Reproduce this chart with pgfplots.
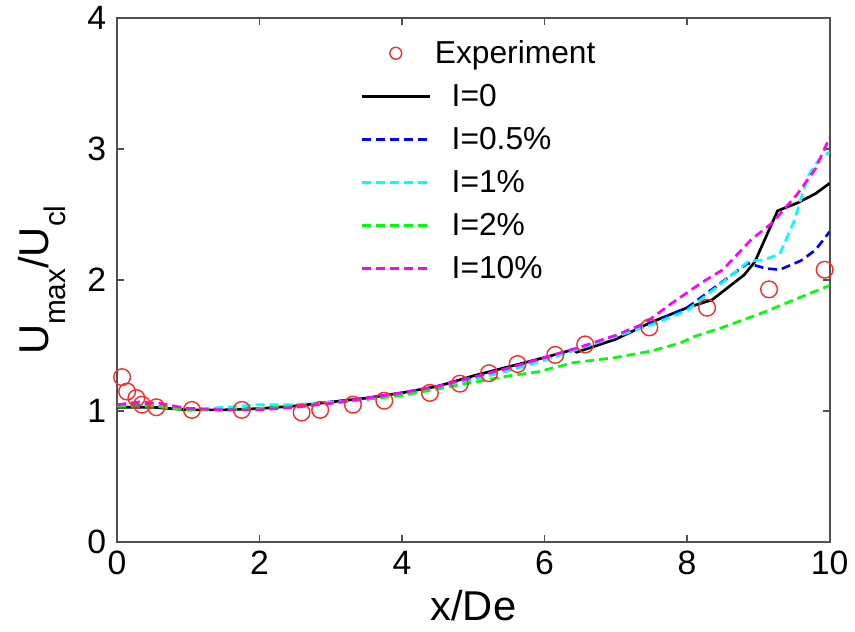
\documentclass[border=0pt]{standalone}
\usepackage{pgfplots}
\pgfplotsset{compat=1.18}
\usepackage{fontspec}
\setmainfont{Liberation Sans}
\definecolor{axgray}{RGB}{80,80,80}
\definecolor{expred}{RGB}{255,40,40}
\definecolor{cblue}{RGB}{0,0,255}
\definecolor{ccyan}{RGB}{0,255,255}
\definecolor{cgreen}{RGB}{0,255,0}
\definecolor{cmag}{RGB}{255,0,255}
\begin{document}
\begin{tikzpicture}
\begin{axis}[
  scale only axis,
  width=359pt, height=264pt,
  xmin=0, xmax=10, ymin=0, ymax=4,
  xtick={0,2,4,6,8,10}, ytick={0,1,2,3,4},
  tick align=inside,
  major tick length=3.5pt,
  axis line style={axgray, line width=0.9pt},
  every tick/.style={axgray, line width=0.8pt},
  /pgf/number format/assume math mode=true,
  tick label style={font=\fontsize{17}{20}\selectfont},
  yticklabel style={xshift=-2pt},
  xticklabel style={yshift=-1pt},
  xlabel={x/De},
  ylabel={U\raisebox{-0.4em}{\fontsize{15}{15}\selectfont max}/U\raisebox{-0.4em}{\fontsize{15}{15}\selectfont cl}},
  label style={font=\fontsize{21}{24}\selectfont},
  xlabel style={at={(axis description cs:0.5,-0.121)}, anchor=center},
  ylabel style={at={(axis description cs:-0.105,0.5)}, anchor=center},
  legend style={draw=none, fill=none, at={(rel axis cs:0.333,0.972)}, anchor=north west,
    font=\fontsize{16}{19}\selectfont, row sep=6pt,
    nodes={inner sep=1.5pt},
    /tikz/every odd column/.style={column sep=9pt}},
  legend cell align=left,
  legend image code/.code={\draw[mark repeat=2,mark phase=2,#1,mark size=3pt] plot coordinates {(0pt,0pt) (17pt,0pt) (34pt,0pt)};},
  every axis plot/.append style={line width=1.35pt},
  clip=true,
]
\addplot[only marks, mark=o, mark size=4.2pt, expred, mark options={line width=0.7pt}] coordinates {
(0.07,1.26) (0.14,1.15) (0.27,1.10) (0.35,1.05) (0.55,1.03) (1.05,1.01) (1.75,1.01)
(2.59,0.99) (2.85,1.01) (3.31,1.05) (3.75,1.08) (4.39,1.14) (4.81,1.21) (5.22,1.29)
(5.62,1.36) (6.15,1.43) (6.57,1.51) (7.47,1.64) (8.28,1.79) (9.15,1.93) (9.93,2.08)};
\addlegendentry{\hspace*{-8.5pt}Experiment}
\addplot[black, solid] coordinates {
(0,1.03) (0.5,1.03) (1,1.01) (1.5,1.01) (2,1.02) (2.5,1.04) (3,1.07) (3.5,1.10)
(4,1.14) (4.5,1.19) (5,1.27) (5.5,1.34) (6,1.41) (6.4,1.47) (6.45,1.45) (7,1.55)
(7.5,1.68) (8,1.79) (8.35,1.85) (8.8,2.04) (8.95,2.14) (9.27,2.53) (9.55,2.59)
(9.8,2.66) (10,2.74)};
\addlegendentry{I=0}
\addplot[cblue, dash pattern=on 4.5pt off 2.5pt] coordinates {
(0,1.04) (0.25,1.05) (0.5,1.04) (1,1.02) (1.5,1.01) (2,1.02) (2.5,1.04) (3,1.07)
(3.5,1.10) (4,1.14) (4.5,1.19) (5,1.26) (5.5,1.33) (6,1.40) (6.5,1.48) (7,1.57)
(7.5,1.67) (8,1.79) (8.4,1.95) (8.85,2.13) (9.1,2.09) (9.3,2.08) (9.6,2.15)
(9.8,2.23) (10,2.37)};
\addlegendentry{I=0.5\%}
\addplot[ccyan, dash pattern=on 4.5pt off 2.5pt] coordinates {
(0,1.04) (0.5,1.04) (1,1.01) (1.5,1.03) (2,1.05) (2.5,1.05) (3,1.07) (3.5,1.09)
(4,1.13) (4.5,1.18) (5,1.24) (5.5,1.31) (6,1.39) (6.5,1.48) (7,1.57) (7.5,1.66)
(8,1.77) (8.4,1.94) (8.85,2.14) (9.1,2.16) (9.3,2.20) (9.5,2.45) (9.7,2.80)
(9.85,2.92) (10,2.98)};
\addlegendentry{I=1\%}
\addplot[cgreen, dash pattern=on 4.5pt off 2.5pt] coordinates {
(0,1.04) (0.5,1.04) (1,1.01) (1.5,1.01) (2,1.02) (2.5,1.04) (3,1.06) (3.5,1.09)
(4,1.12) (4.5,1.17) (5,1.22) (5.5,1.27) (5.9,1.30) (6.4,1.37) (7,1.41) (7.5,1.46)
(7.9,1.52) (8.1,1.57) (8.5,1.64) (9.1,1.76) (9.5,1.85) (10,1.96)};
\addlegendentry{I=2\%}
\addplot[cmag, dash pattern=on 4.5pt off 2.5pt] coordinates {
(0,1.05) (0.3,1.07) (0.6,1.06) (1,1.02) (1.5,1.01) (2,1.01) (2.5,1.03) (3,1.06)
(3.5,1.10) (4,1.14) (4.5,1.19) (5,1.26) (5.5,1.33) (6,1.41) (6.5,1.49) (7,1.58)
(7.4,1.67) (7.8,1.83) (8.2,1.98) (8.5,2.08) (8.9,2.31) (9.2,2.44) (9.55,2.66)
(9.8,2.85) (10,3.09)};
\addlegendentry{I=10\%}
\end{axis}
\useasboundingbox ([xshift=-59pt,yshift=-45pt]current axis.south west) rectangle ([xshift=9.5pt,yshift=9pt]current axis.north east);
\end{tikzpicture}
\end{document}
